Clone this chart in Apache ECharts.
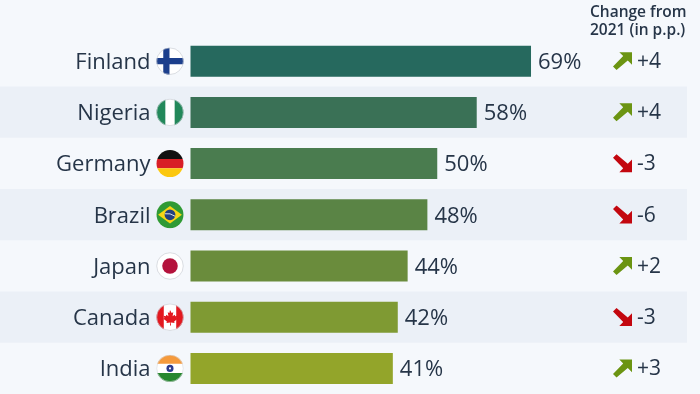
<!DOCTYPE html>
<html>
<head>
<meta charset="utf-8">
<style>
  html, body { margin: 0; padding: 0; background: #f5f8fc; }
  #chart { width: 700px; height: 394px; }
</style>
<script src="https://cdn.jsdelivr.net/npm/echarts@6/dist/echarts.min.js"></script>
</head>
<body>
<div id="chart"></div>
<script>
const countries = ['Finland', 'Nigeria', 'Germany', 'Brazil', 'Japan', 'Canada', 'India'];
const shares = [69, 58, 50, 48, 44, 42, 41];
const changes = [4, 4, -3, -6, 2, -3, 3];
const barColors = ['#26695e', '#3a7156', '#4a7c4f', '#5a8445', '#6a8c3c', '#7f9a33', '#93a52a'];

const textColor = '#263548';

// Petits drapeaux ronds en SVG, utilisés comme images dans les labels
function svgUri(body) {
    const svg = '<svg xmlns="http://www.w3.org/2000/svg" width="108" height="108" viewBox="0 0 27 27">' + body + '</svg>';
    return 'data:image/svg+xml;charset=utf-8,' + encodeURIComponent(svg);
}

function roundFlag(inner, ring) {
    return svgUri(
        '<defs><clipPath id="c"><circle cx="13.5" cy="13.5" r="13"/></clipPath></defs>' +
        '<g clip-path="url(#c)"><rect width="27" height="27" fill="#fff"/>' + inner + '</g>' +
        '<circle cx="13.5" cy="13.5" r="12.8" fill="none" stroke="' + (ring || 'none') + '" stroke-width="0.6"/>'
    );
}

const flags = {
    Finland: roundFlag('<rect x="7" width="6" height="27" fill="#1c3f8c"/><rect y="10.5" width="27" height="6" fill="#1c3f8c"/>', '#c4c8d0'),
    Nigeria: roundFlag('<rect width="9" height="27" fill="#22885a"/><rect x="18" width="9" height="27" fill="#22885a"/>', '#c4c8d0'),
    Germany: roundFlag('<rect width="27" height="9" fill="#111"/><rect y="9" width="27" height="9" fill="#d81f26"/><rect y="18" width="27" height="9" fill="#fbc70f"/>'),
    Brazil: roundFlag('<rect width="27" height="27" fill="#2f9a35"/><path d="M2 13.5 13.5 5 25 13.5 13.5 22z" fill="#f6d516"/><circle cx="13.5" cy="13.5" r="5.2" fill="#24407f"/><path d="M8.6 12.5q5-1 9.8 2.4" stroke="#fff" stroke-width="0.8" fill="none"/>'),
    Japan: roundFlag('<circle cx="13.5" cy="13.5" r="7.5" fill="#b4123c"/>', '#c4c8d0'),
    Canada: roundFlag('<rect width="7.5" height="27" fill="#e3181f"/><rect x="19.5" width="7.5" height="27" fill="#e3181f"/><path d="M13.5 6.5l1.6 3 1.6-.8-.7 4 2-1.6.6 1.4 2-.4-.7 2.2 1 .6-3.4 2.8.4 1.4-3.6-.5.2 3h-1l.2-3-3.6.5.4-1.4-3.4-2.8 1-.6-.7-2.2 2 .4.6-1.4 2 1.6-.7-4 1.6.8z" fill="#e3181f"/>', '#c4c8d0'),
    India: roundFlag('<rect width="27" height="9" fill="#f59a3c"/><rect y="18" width="27" height="9" fill="#27872f"/><circle cx="13.5" cy="13.5" r="3.4" fill="#2c3a8c"/><circle cx="13.5" cy="13.5" r="1" fill="#fff"/>', '#d5d8de')
};

const arrowUp = svgUri('<path d="M9 1H27V19L21 13 5 26.5 0 21.5 14.5 6.5z" fill="#6b9412"/>');
const arrowDown = svgUri('<path d="M5 .5 0 5.5 14.5 20.5 9 26H27V8L21 14z" fill="#c3070f"/>');

function flagKey(name) {
    return name.toLowerCase();
}

const nameRich = {
    name: { fontFamily: 'Open Sans', fontSize: 22, color: textColor, padding: [3, 5.5, 0, 0] },
};
countries.forEach(c => {
    nameRich[flagKey(c)] = { width: 28, height: 28, backgroundColor: { image: flags[c] } };
});

const chart = echarts.init(document.getElementById('chart'), null, { renderer: 'canvas' });

chart.setOption({
    animation: false,
    backgroundColor: '#f5f8fc',
    title: {
        text: 'Change from\n2021 (in p.p.)',
        left: 590,
        top: 4,
        padding: 0,
        textStyle: { fontFamily: 'Open Sans', fontSize: 15.5, fontWeight: 600, lineHeight: 18, color: textColor }
    },
    grid: [
        { left: 190.5, top: 35.6, width: 493.5, height: 359.8 },
        { left: 0, top: 35.3, width: 687, height: 359.8 },
        { left: 604, top: 35.3, width: 8, height: 359.8 }
    ],
    xAxis: [
        { gridIndex: 0, type: 'value', min: 0, max: 100, show: false },
        { gridIndex: 1, type: 'value', min: 0, max: 100, show: false },
        { gridIndex: 2, type: 'value', min: 0, max: 100, show: false }
    ],
    yAxis: [
        {
            gridIndex: 0, type: 'category', inverse: true, data: countries, z: 5,
            axisLine: { show: false }, axisTick: { show: false },
            axisLabel: {
                margin: 6.5,
                formatter: name => '{name|' + name + '}{' + flagKey(name) + '|}',
                rich: nameRich
            }
        },
        {
            gridIndex: 1, type: 'category', inverse: true, data: countries, z: 0,
            axisLine: { show: false }, axisTick: { show: false }, axisLabel: { show: false },
            splitLine: { show: false },
            splitArea: { show: true, areaStyle: { color: ['rgba(0,0,0,0)', '#ebf0f7'] } }
        },
        {
            gridIndex: 2, type: 'category', inverse: true, position: 'right', data: changes, z: 5,
            axisLine: { show: false }, axisTick: { show: false },
            axisLabel: {
                margin: 1,
                align: 'left',
                formatter: v => {
                    const n = Number(v);
                    return (n > 0 ? '{up|}{val|+' + n : '{down|}{val|' + n) + '}';
                },
                rich: {
                    up: { width: 19, height: 19, backgroundColor: { image: arrowUp } },
                    down: { width: 19, height: 19, backgroundColor: { image: arrowDown } },
                    val: { fontFamily: 'Open Sans', fontSize: 21, color: textColor, padding: [2, 0, 0, 5] }
                }
            }
        }
    ],
    series: [
        {
            type: 'bar',
            xAxisIndex: 0,
            yAxisIndex: 0,
            barWidth: 31,
            data: shares.map((v, i) => ({ value: v, itemStyle: { color: barColors[i] } })),
            label: {
                show: true,
                position: 'right',
                distance: 7,
                offset: [0, 1.5],
                formatter: '{c}%',
                fontFamily: 'Open Sans',
                fontSize: 22,
                color: textColor
            }
        }
    ]
});
</script>
</body>
</html>
